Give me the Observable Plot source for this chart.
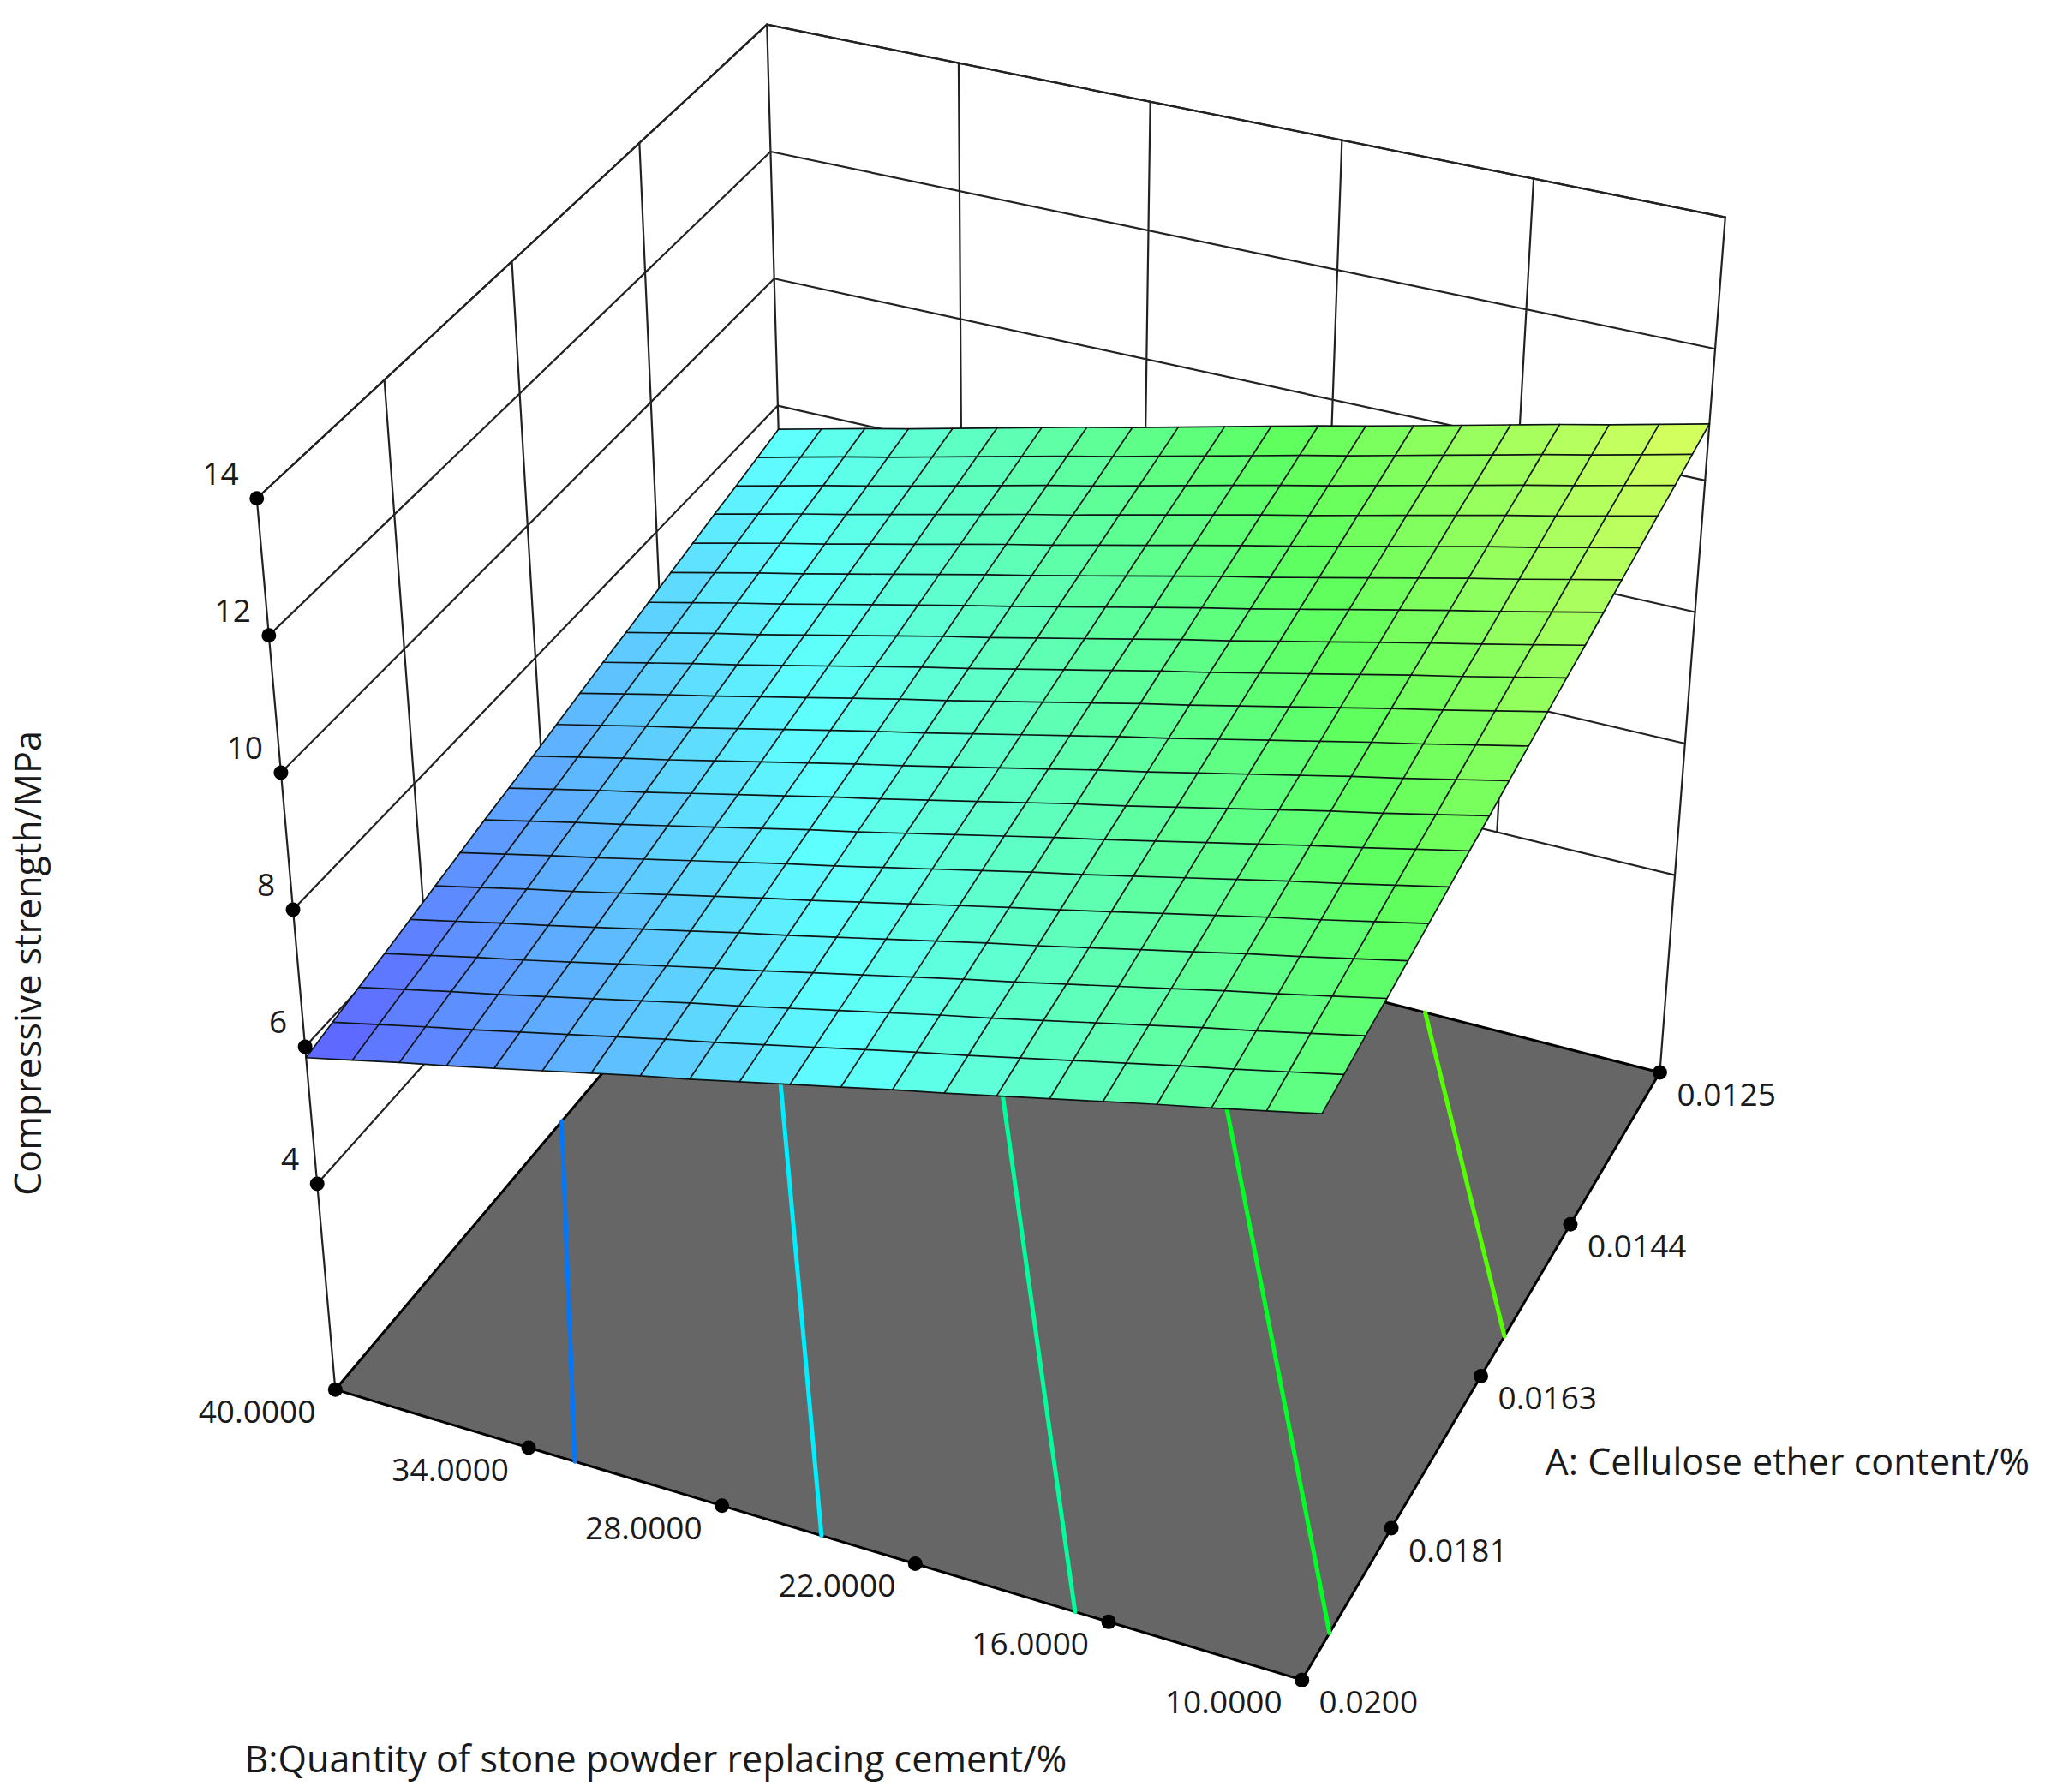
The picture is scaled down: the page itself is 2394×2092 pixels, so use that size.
<!DOCTYPE html>
<html>
<head>
<meta charset="utf-8">
<style>html,body{margin:0;padding:0;background:#fff}svg{display:block}</style>
<script src="https://cdn.jsdelivr.net/npm/d3@7"></script>
<script src="https://cdn.jsdelivr.net/npm/@observablehq/plot@0.6"></script>
</head>
<body>
<div id="chart"></div>
<script>
// ---- axis ticks
const aTicks = [0.0125, 0.014375, 0.01625, 0.018125, 0.02];
const aTickLabels = ["0.0125", "0.0144", "0.0163", "0.0181", "0.0200"];
const bTicks = [40, 34, 28, 22, 16, 10];
const bTickLabels = ["40.0000", "34.0000", "28.0000", "22.0000", "16.0000", "10.0000"];
const zTicks = [4, 6, 8, 10, 12, 14];
const zFloor = 1;
const zTop = 14;

// ---- response surface: one row per A level, one column per B level
const aLevels = [0.02, 0.019625, 0.01925, 0.018875, 0.0185, 0.018125, 0.01775, 0.017375, 0.017, 0.016625, 0.01625, 0.015875, 0.0155, 0.015125, 0.01475, 0.014375, 0.014, 0.013625, 0.01325, 0.012875, 0.0125];
const bLevels = [40, 38.5, 37, 35.5, 34, 32.5, 31, 29.5, 28, 26.5, 25, 23.5, 22, 20.5, 19, 17.5, 16, 14.5, 13, 11.5, 10];
const strength = [
[6.17,6.33,6.49,6.64,6.80,6.96,7.12,7.28,7.43,7.59,7.75,7.91,8.07,8.22,8.38,8.54,8.70,8.86,9.01,9.17,9.33],
[6.26,6.42,6.58,6.73,6.89,7.05,7.21,7.37,7.52,7.68,7.84,8.00,8.16,8.31,8.47,8.63,8.79,8.95,9.10,9.26,9.42],
[6.35,6.51,6.67,6.82,6.98,7.14,7.30,7.46,7.61,7.77,7.93,8.09,8.25,8.40,8.56,8.72,8.88,9.04,9.19,9.35,9.51],
[6.43,6.59,6.75,6.90,7.06,7.22,7.38,7.54,7.69,7.85,8.01,8.17,8.33,8.48,8.64,8.80,8.96,9.12,9.27,9.43,9.59],
[6.52,6.68,6.84,6.99,7.15,7.31,7.47,7.63,7.78,7.94,8.10,8.26,8.42,8.57,8.73,8.89,9.05,9.21,9.36,9.52,9.68],
[6.61,6.77,6.93,7.08,7.24,7.40,7.56,7.72,7.87,8.03,8.19,8.35,8.51,8.66,8.82,8.98,9.14,9.30,9.45,9.61,9.77],
[6.70,6.86,7.02,7.17,7.33,7.49,7.65,7.81,7.96,8.12,8.28,8.44,8.60,8.75,8.91,9.07,9.23,9.39,9.54,9.70,9.86],
[6.79,6.95,7.11,7.26,7.42,7.58,7.74,7.90,8.05,8.21,8.37,8.53,8.69,8.84,9.00,9.16,9.32,9.48,9.63,9.79,9.95],
[6.87,7.03,7.19,7.34,7.50,7.66,7.82,7.98,8.13,8.29,8.45,8.61,8.77,8.92,9.08,9.24,9.40,9.56,9.71,9.87,10.03],
[6.96,7.12,7.28,7.43,7.59,7.75,7.91,8.07,8.22,8.38,8.54,8.70,8.86,9.01,9.17,9.33,9.49,9.65,9.80,9.96,10.12],
[7.05,7.21,7.37,7.52,7.68,7.84,8.00,8.16,8.31,8.47,8.63,8.79,8.95,9.10,9.26,9.42,9.58,9.74,9.89,10.05,10.21],
[7.14,7.30,7.46,7.61,7.77,7.93,8.09,8.25,8.40,8.56,8.72,8.88,9.04,9.19,9.35,9.51,9.67,9.83,9.98,10.14,10.30],
[7.23,7.39,7.55,7.70,7.86,8.02,8.18,8.34,8.49,8.65,8.81,8.97,9.13,9.28,9.44,9.60,9.76,9.92,10.07,10.23,10.39],
[7.31,7.47,7.63,7.78,7.94,8.10,8.26,8.42,8.57,8.73,8.89,9.05,9.21,9.36,9.52,9.68,9.84,10.00,10.15,10.31,10.47],
[7.40,7.56,7.72,7.87,8.03,8.19,8.35,8.51,8.66,8.82,8.98,9.14,9.30,9.45,9.61,9.77,9.93,10.09,10.24,10.40,10.56],
[7.49,7.65,7.81,7.96,8.12,8.28,8.44,8.60,8.75,8.91,9.07,9.23,9.39,9.54,9.70,9.86,10.02,10.18,10.33,10.49,10.65],
[7.58,7.74,7.90,8.05,8.21,8.37,8.53,8.69,8.84,9.00,9.16,9.32,9.48,9.63,9.79,9.95,10.11,10.27,10.42,10.58,10.74],
[7.67,7.83,7.99,8.14,8.30,8.46,8.62,8.78,8.93,9.09,9.25,9.41,9.57,9.72,9.88,10.04,10.20,10.36,10.51,10.67,10.83],
[7.75,7.91,8.07,8.22,8.38,8.54,8.70,8.86,9.01,9.17,9.33,9.49,9.65,9.80,9.96,10.12,10.28,10.44,10.59,10.75,10.91],
[7.84,8.00,8.16,8.31,8.47,8.63,8.79,8.95,9.10,9.26,9.42,9.58,9.74,9.89,10.05,10.21,10.37,10.53,10.68,10.84,11.00],
[7.93,8.09,8.25,8.40,8.56,8.72,8.88,9.04,9.19,9.35,9.51,9.67,9.83,9.98,10.14,10.30,10.46,10.62,10.77,10.93,11.09]
];

// ---- contours projected on the floor: level and its two ends in (A, B)
const contourLevels = [6.99, 7.81, 8.63, 9.45, 10.27];
const contourStartA = [0.02, 0.02, 0.02, 0.01949, 0.01601];
const contourStartB = [32.2, 24.43, 16.7, 10, 10];
const contourEndA = [0.01651, 0.01302, 0.0125, 0.0125, 0.0125];
const contourEndB = [40, 40, 33.35, 25.57, 17.77];

// ---- colour ramp of the response
const rampValues = [6.17, 7.93, 9.7, 11.46];
const rampColors = ["#0000ff", "#00ffff", "#00ff00", "#ffff00"];

// ---- perspective camera: (A, B, z) to view units
const camera = [
  [256, 677.3, 431.0, -79.86],
  [1062, 142.4, -323.0, -719.9],
  [1, -0.06199, 0.1374, -0.10135]
];
function project(a, b, z) {
  const v = [(40 - b) / 30, (0.02 - a) / 0.0075, (z - zFloor) / (zTop - zFloor)];
  const [px, py, ph] = camera.map(r => r[0] + r[1] * v[0] + r[2] * v[1] + r[3] * v[2]);
  return [px / ph, py / ph];
}
// Ticks are spaced evenly along each box edge, as the source software draws them.
const along = (p, q, f) => [p[0] + (q[0] - p[0]) * f, p[1] + (q[1] - p[1]) * f];
const fa = a => (0.02 - a) / 0.0075;      // 0 at front, 1 at back
const fb = b => (40 - b) / 30;            // 0 at left, 1 at right
const fz = z => (z - zFloor) / (zTop - zFloor);

const L0 = project(0.02, 40, zFloor), L1 = project(0.02, 40, zTop);
const F0 = project(0.02, 10, zFloor);
const K0 = project(0.0125, 40, zFloor), K1 = project(0.0125, 40, zTop);
const R0 = project(0.0125, 10, zFloor), R1 = project(0.0125, 10, zTop);

const pt = (p, id, extra = {}) => ({px: p[0], py: p[1], id, ...extra});

// Box wall lines; the inner uprights stop at the lowest z gridline.
const wall = [];
const seg = (p, q, id) => wall.push(pt(p, id), pt(q, id));
const zLow = fz(zTicks[0]);
seg(L0, L1, "left"); seg(along(K0, K1, zLow), K1, "back"); seg(R0, R1, "right");
seg(L1, K1, "topL"); seg(K1, R1, "topR");
zTicks.forEach(z => {
  const f = fz(z);
  const l = along(L0, L1, f), k = along(K0, K1, f), r = along(R0, R1, f);
  wall.push(pt(l, "z" + z), pt(k, "z" + z), pt(r, "z" + z));
});
aTicks.slice(1, -1).forEach(a => {
  const f = fa(a);
  const lo = along(L0, K0, f), hi = along(L1, K1, f);
  seg(along(lo, hi, zLow), hi, "a" + a);
});
bTicks.slice(1, -1).forEach(b => {
  const f = fb(b);
  const lo = along(K0, R0, f), hi = along(K1, R1, f);
  seg(along(lo, hi, zLow), hi, "b" + b);
});

const floor = [L0, F0, R0, K0, L0].map(p => pt(p, "floor"));

const contours = contourLevels.flatMap((lev, i) => [
  pt(project(contourStartA[i], contourStartB[i], zFloor), "c" + i, {level: lev}),
  pt(project(contourEndA[i], contourEndB[i], zFloor), "c" + i, {level: lev})
]);

// Surface cells and mesh lines
const P = (i, j) => project(aLevels[i], bLevels[j], strength[i][j]);
const cells = [], mesh = [];
for (let i = 0; i < aLevels.length - 1; i++) {
  for (let j = 0; j < bLevels.length - 1; j++) {
    const level = d3.mean([strength[i][j], strength[i + 1][j], strength[i + 1][j + 1], strength[i][j + 1]]);
    [P(i, j), P(i + 1, j), P(i + 1, j + 1), P(i, j + 1), P(i, j)]
      .forEach(p => cells.push(pt(p, i + "_" + j, {level})));
  }
}
aLevels.forEach((_, i) => bLevels.forEach((_, j) => mesh.push(pt(P(i, j), "r" + i))));
bLevels.forEach((_, j) => aLevels.forEach((_, i) => mesh.push(pt(P(i, j), "s" + j))));
const n = aLevels.length - 1;
const sheet = [P(0, 0), P(0, n), P(n, n), P(n, 0), P(0, 0)].map(p => pt(p, "sheet"));

// Tick dots with labels
const zDots = zTicks.map(z => pt(along(L0, L1, fz(z)), z, {label: String(z)}));
const bDots = bTicks.map((b, i) => pt(along(L0, F0, fb(b)), b, {label: bTickLabels[i]}));
const aDots = aTicks.map((a, i) => pt(along(R0, F0, (a - 0.0125) / 0.0075), a, {label: aTickLabels[i]}));

const font = "'Open Sans', 'Noto Sans', sans-serif";
const fs = 37;
const titleSize = 43;
const XY = {x: "px", y: "py"};
const ink = "#1a1a1a";

const chart = Plot.plot({
  width: 2394,
  height: 2092,
  margin: 0,
  style: {background: "#fff", fontFamily: font},
  x: {axis: null, domain: [0, 1568], range: [0, 2394]},
  y: {axis: null, domain: [0, 1370], range: [0, 2092]},
  color: {type: "linear", domain: rampValues, range: rampColors, interpolate: "rgb"},
  marks: [
    Plot.line(wall, {...XY, z: "id", stroke: "#222", strokeWidth: 2.2}),
    Plot.line(floor, {...XY, z: "id", fill: "#666666", stroke: "#000", strokeWidth: 3}),
    Plot.line(contours, {...XY, z: "id", stroke: "level", strokeWidth: 5}),
    Plot.line(sheet, {...XY, z: "id", fill: "#fff", stroke: "none"}),
    Plot.line(cells, {...XY, z: "id", fill: "level", fillOpacity: 0.63, stroke: "none"}),
    Plot.line(mesh, {...XY, z: "id", stroke: "#0c1414", strokeWidth: 1.7}),
    Plot.dot([...zDots, ...bDots, ...aDots], {...XY, r: 8.5, fill: "#000", stroke: "none"}),
    Plot.text(zDots, {...XY, text: "label", textAnchor: "end", dx: -21, dy: -28, fontSize: fs, fill: ink, fontFamily: font}),
    Plot.text(bDots, {...XY, text: "label", textAnchor: "end", dx: -23, dy: 27, fontSize: fs, fill: ink, fontFamily: font}),
    Plot.text(aDots, {...XY, text: "label", textAnchor: "start", dx: 20, dy: 27, fontSize: fs, fill: ink, fontFamily: font}),
    Plot.text(["A: Cellulose ether content/%"], {frameAnchor: "top-left", dx: 1803, dy: 1708, lineAnchor: "middle", textAnchor: "start", fontSize: titleSize, fill: ink, fontFamily: font}),
    Plot.text(["B:Quantity of stone powder replacing cement/%"], {frameAnchor: "top-left", dx: 285, dy: 2055, lineAnchor: "middle", textAnchor: "start", fontSize: titleSize, fill: ink, fontFamily: font}),
    Plot.text(["Compressive strength/MPa"], {frameAnchor: "left", dx: 34, dy: 78, rotate: -90, textAnchor: "middle", lineAnchor: "middle", fontSize: titleSize, fill: ink, fontFamily: font})
  ]
});
document.getElementById("chart").appendChild(chart);
</script>
</body>
</html>
